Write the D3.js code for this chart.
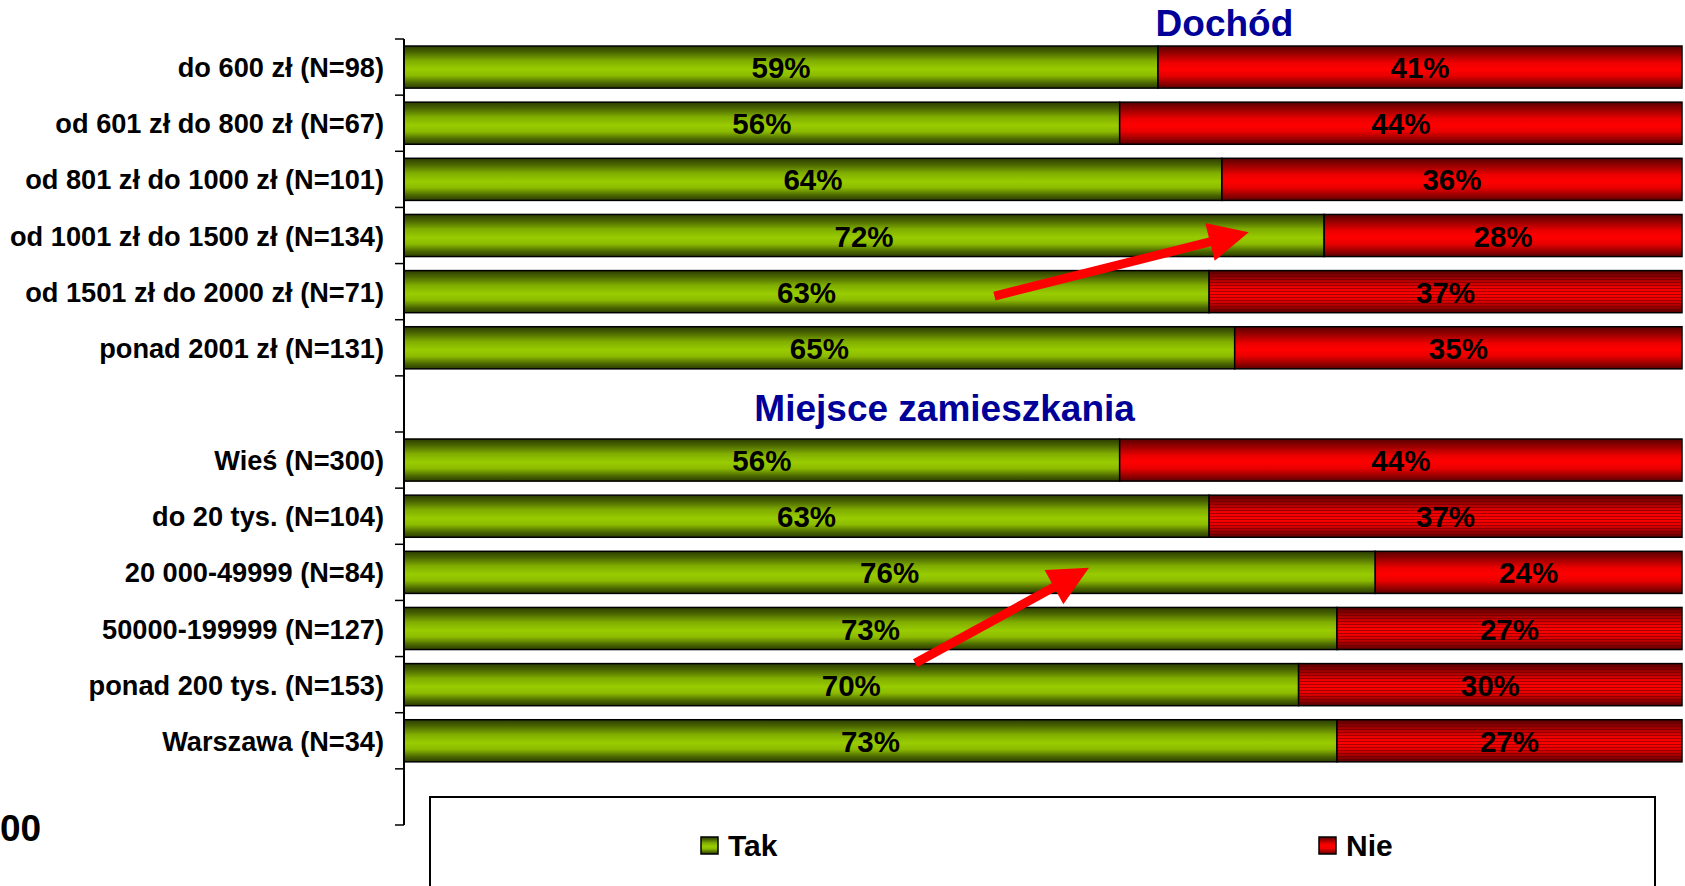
<!DOCTYPE html>
<meta charset="utf-8">
<title>Dochód / Miejsce zamieszkania</title>
<style>
  body { margin: 0; background: #fff; overflow: hidden; }
  text { font-family: Arial, "Liberation Sans", sans-serif; font-weight: bold; }
</style>
<body>
<script src="https://d3js.org/d3.v7.min.js"></script>
<script>

// rows, top to bottom (empty labels are the spacer rows)
const rowLabels = [
  "do 600 zł (N=98)",
  "od 601 zł do 800 zł (N=67)",
  "od 801 zł do 1000 zł (N=101)",
  "od 1001 zł do 1500 zł (N=134)",
  "od 1501 zł do 2000 zł (N=71)",
  "ponad 2001 zł (N=131)",
  "",
  "Wieś (N=300)",
  "do 20 tys. (N=104)",
  "20 000-49999 (N=84)",
  "50000-199999 (N=127)",
  "ponad 200 tys. (N=153)",
  "Warszawa (N=34)",
  ""
];
const takValues = [59, 56, 64, 72, 63, 65, null, 56, 63, 76, 73, 70, 73, null];
const nieValues = [41, 44, 36, 28, 37, 35, null, 44, 37, 24, 27, 30, 27, null];
const seriesNames = ["Tak", "Nie"];
const groupTitles = [{ text: "Dochód", row: 0, at: 64.2 }, { text: "Miejsce zamieszkania", row: 6, at: 42.3 }];

// red segments drawn with the horizontal line texture
const stripedRows = [4, 8, 10, 11, 12];

// the two hand drawn arrows, in value / row units
const arrows = [
  { x0: 46.2, r0: 4.08, x1: 66.1, r1: 2.94 },
  { x0: 40.0, r0: 10.62, x1: 53.6, r1: 8.92 }
];

const width = 1685, height = 886;
const svg = d3.select("body").append("svg")
    .attr("width", width)
    .attr("height", height);

const x = d3.scaleLinear().domain([0, 100]).range([404, 1682]);
const y = d3.scaleBand().domain(d3.range(rowLabels.length)).range([39, 825])
    .paddingInner(0.25).paddingOuter(0.125);
const rowY = r => y.range()[0] + y.step() * (r + 0.5);

// gradients
const defs = svg.append("defs");
function vGrad(id, stops) {
  const g = defs.append("linearGradient").attr("id", id)
      .attr("x1", 0).attr("y1", 0).attr("x2", 0).attr("y2", 1);
  stops.forEach(s => g.append("stop").attr("offset", s[0]).attr("stop-color", s[1]));
}
vGrad("green", [[0, "#2c3d00"], [0.15, "#4a6600"], [0.35, "#80ad00"], [0.55, "#99cc00"], [0.7, "#8cbb00"], [0.88, "#4a6600"], [1, "#2c3d00"]]);
vGrad("red", [[0, "#5a0000"], [0.18, "#9a0000"], [0.4, "#ee0000"], [0.55, "#ff0000"], [0.7, "#e80000"], [0.88, "#960000"], [1, "#5a0000"]]);

const pat = defs.append("pattern").attr("id", "stripes")
    .attr("patternUnits", "userSpaceOnUse").attr("width", 8).attr("height", 3);
pat.append("rect").attr("width", 8).attr("height", 1).attr("fill", "rgba(90,0,0,0.5)");

// bars
const rows = d3.range(rowLabels.length).filter(i => takValues[i] != null);
const g = svg.append("g");

rows.forEach(i => {
  const segs = [
    { name: "Tak", x0: 0, x1: takValues[i], fill: "url(#green)" },
    { name: "Nie", x0: takValues[i], x1: takValues[i] + nieValues[i], fill: "url(#red)" }
  ];
  segs.forEach(s => {
    g.append("rect")
      .attr("x", x(s.x0)).attr("y", y(i))
      .attr("width", x(s.x1) - x(s.x0)).attr("height", y.bandwidth())
      .attr("fill", s.fill);
    if (s.name === "Nie" && stripedRows.includes(i)) {
      g.append("rect")
        .attr("x", x(s.x0)).attr("y", y(i))
        .attr("width", x(s.x1) - x(s.x0)).attr("height", y.bandwidth())
        .attr("fill", "url(#stripes)");
    }
    g.append("rect")
      .attr("x", x(s.x0)).attr("y", y(i))
      .attr("width", x(s.x1) - x(s.x0)).attr("height", y.bandwidth())
      .attr("fill", "none").attr("stroke", "#000").attr("stroke-width", 1.5);
    g.append("text")
      .attr("x", (x(s.x0) + x(s.x1)) / 2)
      .attr("y", y(i) + y.bandwidth() / 2 + 11)
      .attr("text-anchor", "middle")
      .attr("font-size", 29.5)
      .attr("fill", "#000")
      .text((s.x1 - s.x0) + "%");
  });
});

// category axis
const ax = svg.append("g");
ax.append("line")
  .attr("x1", x(0)).attr("x2", x(0))
  .attr("y1", y.range()[0]).attr("y2", y.range()[1])
  .attr("stroke", "#000").attr("stroke-width", 2);
d3.range(rowLabels.length + 1).forEach(k => {
  const ty = y.range()[0] + k * y.step();
  ax.append("line")
    .attr("x1", x(0) - 9).attr("x2", x(0))
    .attr("y1", ty).attr("y2", ty)
    .attr("stroke", "#000").attr("stroke-width", 1.5);
});
rowLabels.forEach((lab, i) => {
  ax.append("text")
    .attr("x", 384)
    .attr("y", rowY(i) + 10)
    .attr("text-anchor", "end")
    .attr("font-size", 27.2)
    .attr("fill", "#000")
    .text(lab);
});

// group headings
groupTitles.forEach(t => {
  svg.append("text")
    .attr("x", x(t.at))
    .attr("y", t.row === 0 ? y(0) - 10 : y(t.row) + y.bandwidth() - 4)
    .attr("text-anchor", "middle")
    .attr("font-size", 37)
    .attr("fill", "#000099")
    .text(t.text);
});

// arrows
arrows.forEach(a => {
  const x0 = x(a.x0), y0 = rowY(a.r0), x1 = x(a.x1), y1 = rowY(a.r1);
  const len = Math.hypot(x1 - x0, y1 - y0);
  const ang = Math.atan2(y1 - y0, x1 - x0) * 180 / Math.PI;
  const hl = 40, hw = 19.5, sw = 4.5;
  svg.append("path")
    .attr("transform", `translate(${x0},${y0}) rotate(${ang})`)
    .attr("d", `M0,${-sw}L${len - hl},${-sw}L${len - hl},${-hw}L${len},0L${len - hl},${hw}L${len - hl},${sw}L0,${sw}Z`)
    .attr("fill", "#ff0000");
});

// legend
const lg = svg.append("g");
lg.append("rect")
  .attr("x", 430).attr("y", 797)
  .attr("width", 1225).attr("height", 120)
  .attr("fill", "#fff").attr("stroke", "#000").attr("stroke-width", 2);
const legendX = [701, 1319];
seriesNames.forEach((n, i) => {
  lg.append("rect")
    .attr("x", legendX[i]).attr("y", 837)
    .attr("width", 17).attr("height", 17)
    .attr("fill", i === 0 ? "url(#green)" : "url(#red)")
    .attr("stroke", "#000").attr("stroke-width", 1.5);
  lg.append("text")
    .attr("x", legendX[i] + 27).attr("y", 856)
    .attr("font-size", 30)
    .attr("fill", "#000")
    .text(n);
});

// cut-off text at the lower left edge
svg.append("text")
  .attr("x", 0).attr("y", 841)
  .attr("font-size", 37)
  .attr("fill", "#000")
  .text("00");

</script>
